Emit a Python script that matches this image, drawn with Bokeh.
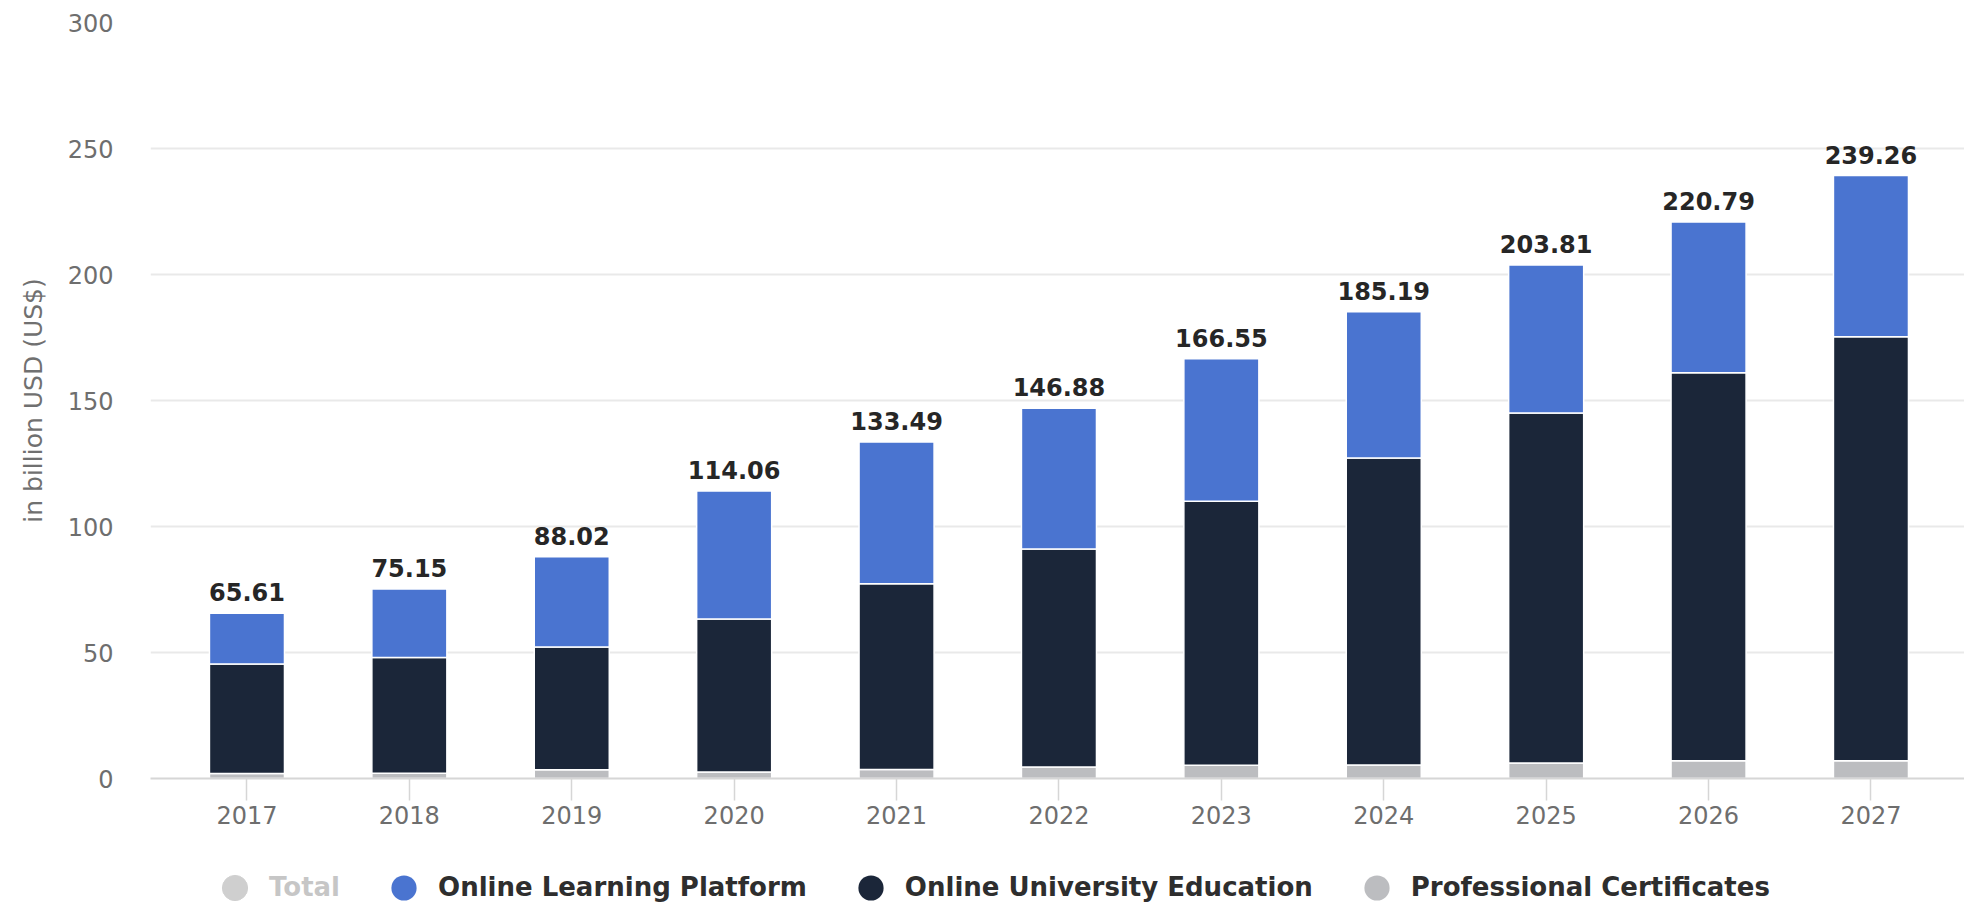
from bokeh.plotting import figure
from bokeh.layouts import column
from bokeh.models import (ColumnDataSource, Range1d, FixedTicker, Legend, LegendItem)
from bokeh.core.properties import value
from bokeh.embed import file_html
from bokeh.resources import INLINE

years = ["2017", "2018", "2019", "2020", "2021", "2022", "2023", "2024", "2025", "2026", "2027"]
totals = [65.61, 75.15, 88.02, 114.06, 133.49, 146.88, 166.55, 185.19, 203.81, 220.79, 239.26]
certificates = [2.0, 2.1, 3.5, 2.6, 3.6, 4.6, 5.3, 5.4, 6.2, 7.0, 7.0]
university = [43.4, 45.9, 48.7, 60.7, 73.7, 86.5, 104.7, 121.8, 138.8, 154.0, 168.3]
platform = [20.21, 27.15, 35.82, 50.76, 56.19, 55.78, 56.55, 57.99, 58.81, 59.79, 63.96]
y_ticks = [0, 50, 100, 150, 200, 250, 300]
series_names = ["Total", "Online Learning Platform", "Online University Education", "Professional Certificates"]

FONT = "DejaVu Sans"
C_PLAT = "#4a74d0"
C_UNI = "#1b2639"
C_CERT = "#bcbdc0"

idx = list(range(len(years)))
src = ColumnDataSource(dict(
    x=idx, year=years, total=totals, cert=certificates, uni=university, plat=platform,
    label=[f"{v:.2f}" for v in totals],
))

p = figure(width=1964, height=836, output_backend="svg", toolbar_location=None,
           x_range=Range1d(-0.594, 10.576), y_range=Range1d(0, 300),
           min_border_left=150, min_border_right=0, min_border_top=22, min_border_bottom=58,
           background_fill_color="white", border_fill_color="white")
p.outline_line_color = None
p.xgrid.grid_line_color = None
p.ygrid.grid_line_color = "#e9e9e9"
p.ygrid.grid_line_width = 2

p.vbar_stack(["cert", "uni", "plat"], x="x", width=0.462, source=src,
             color=[C_CERT, C_UNI, C_PLAT], line_color="white", line_width=1.5)

p.text(x="x", y="total", text="label", source=src, text_align="center",
       text_baseline="alphabetic", y_offset=-21, text_font=value(FONT),
       text_font_size="24px", text_font_style="bold", text_color="#262626")

# axes
p.xaxis.ticker = FixedTicker(ticks=idx)
p.xaxis.major_label_overrides = {i: y for i, y in zip(idx, years)}
p.xaxis.axis_line_color = "#d6d6d6"
p.xaxis.axis_line_width = 2
p.xaxis.major_tick_line_color = "#d6d6d6"
p.xaxis.major_tick_line_width = 1.5
p.xaxis.major_tick_out = 22
p.xaxis.major_tick_in = 0
p.xaxis.minor_tick_line_color = None
p.xaxis.major_label_standoff = 5
p.xaxis.major_label_text_font = FONT
p.xaxis.major_label_text_font_size = "24px"
p.xaxis.major_label_text_color = "#6e6e6e"

p.yaxis.ticker = FixedTicker(ticks=y_ticks)
p.yaxis.axis_line_color = None
p.yaxis.major_tick_line_color = None
p.yaxis.minor_tick_line_color = None
p.yaxis.major_tick_out = 0
p.yaxis.major_tick_in = 0
p.yaxis.major_label_standoff = 37
p.yaxis.major_label_text_font = FONT
p.yaxis.major_label_text_font_size = "24px"
p.yaxis.major_label_text_color = "#6e6e6e"
p.yaxis.axis_label = "in billion USD (US$)"
p.yaxis.axis_label_text_font = FONT
p.yaxis.axis_label_text_font_size = "25px"
p.yaxis.axis_label_text_font_style = "normal"
p.yaxis.axis_label_text_color = "#707070"
p.yaxis.axis_label_standoff = 17

# legend strip (separate figure directly below the chart; its frame is aligned with the chart's)
lg = figure(width=1964, height=68, output_backend="svg", toolbar_location=None,
            x_range=Range1d(0, 1), y_range=Range1d(-2, -1),
            min_border_left=0, min_border_right=0, min_border_top=0, min_border_bottom=0,
            x_axis_location=None, y_axis_location=None,
            background_fill_color="white", border_fill_color="white")
lg.outline_line_color = None
lg.grid.grid_line_color = None

# legend renderers use the series values (they lie outside this strip's range, so only their legend glyphs show)
r_total = lg.scatter(x="x", y="total", source=src, marker="circle", size=10, color="#505050", visible=False)
r_plat = lg.scatter(x="x", y="plat", source=src, marker="circle", size=10, fill_color=C_PLAT, line_color=None)
r_uni = lg.scatter(x="x", y="uni", source=src, marker="circle", size=10, fill_color=C_UNI, line_color=None)
r_cert = lg.scatter(x="x", y="cert", source=src, marker="circle", size=10, fill_color=C_CERT, line_color=None)

legend = Legend(items=[
    LegendItem(label=series_names[0], renderers=[r_total]),
    LegendItem(label=series_names[1], renderers=[r_plat]),
    LegendItem(label=series_names[2], renderers=[r_uni]),
    LegendItem(label=series_names[3], renderers=[r_cert]),
], location=(53, -14.5), orientation="horizontal", glyph_width=63, glyph_height=63,
    label_standoff=3, spacing=32, padding=0, margin=0,
    border_line_color=None, background_fill_alpha=0,
    label_text_font=FONT, label_text_font_size="26px", label_text_font_style="bold",
    label_text_color="#2e2e2e", label_text_baseline="middle",
    click_policy="hide", inactive_fill_color="white", inactive_fill_alpha=0.73)
lg.add_layout(legend, "center")

layout = column(p, lg)
open("out.html", "w").write(file_html(layout, INLINE))
